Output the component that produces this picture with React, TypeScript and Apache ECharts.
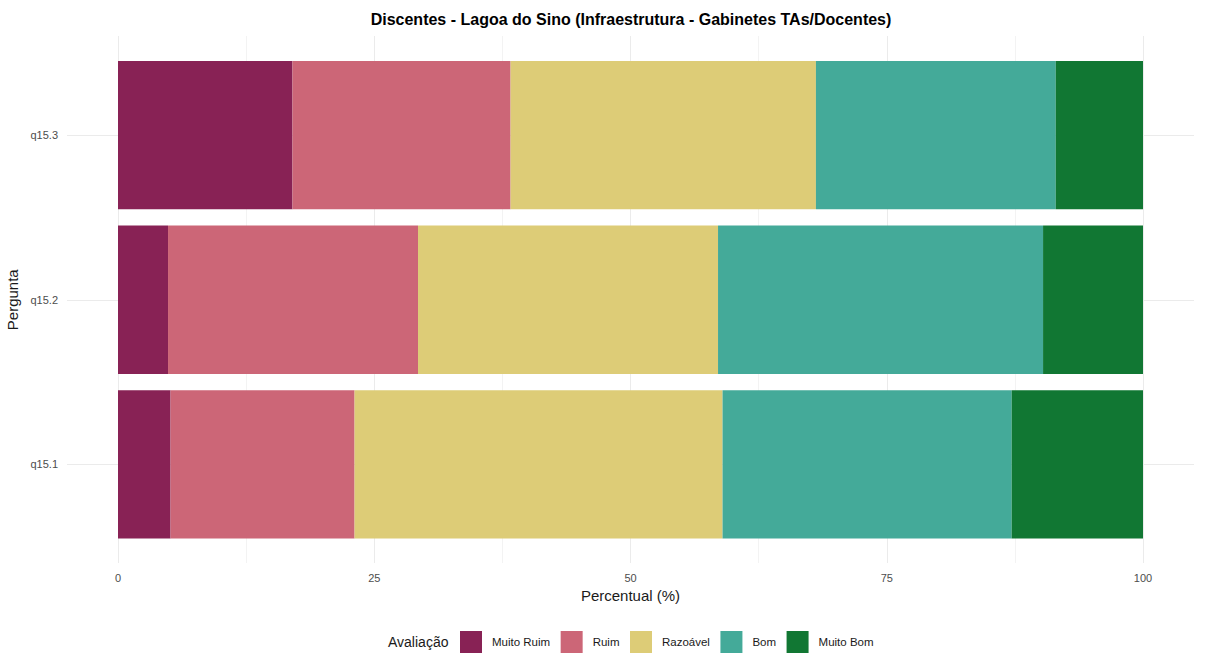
import React, { useEffect, useRef } from "react";
import * as echarts from "echarts";

const categories = ["q15.1", "q15.2", "q15.3"];
const levels = ["Muito Ruim", "Ruim", "Razoável", "Bom", "Muito Bom"];
const colors = ["#882255", "#CC6677", "#DDCC77", "#44AA99", "#117733"];
// percentages per level, ordered as categories (q15.1, q15.2, q15.3)
const muitoRuim = [5.13, 4.88, 17.02];
const ruim = [17.95, 24.39, 21.28];
const razoavel = [35.9, 29.27, 29.79];
const bom = [28.21, 31.71, 23.4];
const muitoBom = [12.82, 9.76, 8.51];
const seriesValues = [muitoRuim, ruim, razoavel, bom, muitoBom];
const xTicks = [0, 25, 50, 75, 100];

const FONT = "'Liberation Sans', Arial, sans-serif";

export default function App() {
  const ref = useRef<HTMLDivElement>(null);
  useEffect(() => {
    if (!ref.current) return;
    const chart = echarts.init(ref.current, null, { renderer: "svg" });
    const grid = "#ebebeb";
    chart.setOption({
      animation: false,
      backgroundColor: "#ffffff",
      textStyle: { fontFamily: FONT },
      grid: [
        { left: 118, width: 1025, top: 36, height: 527, outerBoundsMode: "none", containLabel: false },
        { left: 67, width: 1127, top: 135, height: 329.5, outerBoundsMode: "none", containLabel: false },
        { left: 118, width: 1025, top: 52.65, height: 494.2, outerBoundsMode: "none", containLabel: false },
      ],
      xAxis: [
        {
          gridIndex: 0,
          type: "value",
          min: xTicks[0],
          max: xTicks[xTicks.length - 1],
          interval: 25,
          axisLine: { show: false },
          axisTick: { show: false },
          axisLabel: { color: "#4d4d4d", fontSize: 11, margin: 9, fontFamily: FONT },
          splitLine: { show: true, lineStyle: { color: grid, width: 1 } },
          minorTick: { show: false, splitNumber: 2 },
          minorSplitLine: { show: true, lineStyle: { color: grid, width: 0.6 } },
          name: "Percentual (%)",
          nameLocation: "middle",
          nameGap: 25,
          nameTextStyle: { color: "#1a1a1a", fontSize: 15, fontFamily: FONT },
        },
        { gridIndex: 1, type: "value", show: false, min: 0, max: 1 },
        {
          gridIndex: 2,
          type: "value",
          min: 0,
          max: 100,
          axisLine: { show: false },
          axisTick: { show: false },
          axisLabel: { show: false },
          splitLine: { show: false },
        },
      ],
      yAxis: [
        { gridIndex: 0, type: "value", show: false, min: 0, max: 1, splitLine: { show: false } },
        {
          gridIndex: 1,
          type: "value",
          min: 1,
          max: 3,
          interval: 1,
          axisLine: { show: false },
          axisTick: { show: false },
          axisLabel: { show: false },
          splitLine: { show: true, lineStyle: { color: grid, width: 1 } },
        },
        {
          gridIndex: 2,
          type: "category",
          data: categories,
          axisLine: { show: false },
          axisTick: { show: false },
          splitLine: { show: false },
          axisLabel: { color: "#4d4d4d", fontSize: 11, margin: 60, fontFamily: FONT },
          name: "Pergunta",
          nameLocation: "middle",
          nameRotate: 90,
          nameGap: 91,
          nameTextStyle: { color: "#1a1a1a", fontSize: 15, fontFamily: FONT },
        },
      ],
      legend: {
        data: levels,
        left: 460,
        top: 631,
        padding: 0,
        itemWidth: 22,
        itemHeight: 22,
        itemGap: 10.5,
        icon: "rect",
        selectedMode: false,
        textStyle: { fontSize: 11.5, color: "#1a1a1a", fontFamily: FONT, padding: [0, 0, 0, 5] },
      },
      graphic: [
        {
          type: "text",
          x: 631,
          y: 19,
          style: {
            text: "Discentes - Lagoa do Sino (Infraestrutura - Gabinetes TAs/Docentes)",
            font: `bold 16px ${FONT}`,
            fill: "#000000",
            textAlign: "center",
            textVerticalAlign: "middle",
          },
        },
        {
          type: "text",
          x: 388,
          y: 642,
          style: {
            text: "Avaliação",
            font: `14px ${FONT}`,
            fill: "#1a1a1a",
            textAlign: "left",
            textVerticalAlign: "middle",
          },
        },
      ],
      series: levels.map((name, i) => ({
        name,
        type: "bar",
        stack: "total",
        xAxisIndex: 2,
        yAxisIndex: 2,
        barCategoryGap: "10%",
        itemStyle: { color: colors[i] },
        data: seriesValues[i],
      })),
    });
    return () => chart.dispose();
  }, []);
  return (
    <div
      ref={ref}
      style={{ position: "fixed", left: 0, top: 0, width: 1208, height: 657 }}
    />
  );
}
